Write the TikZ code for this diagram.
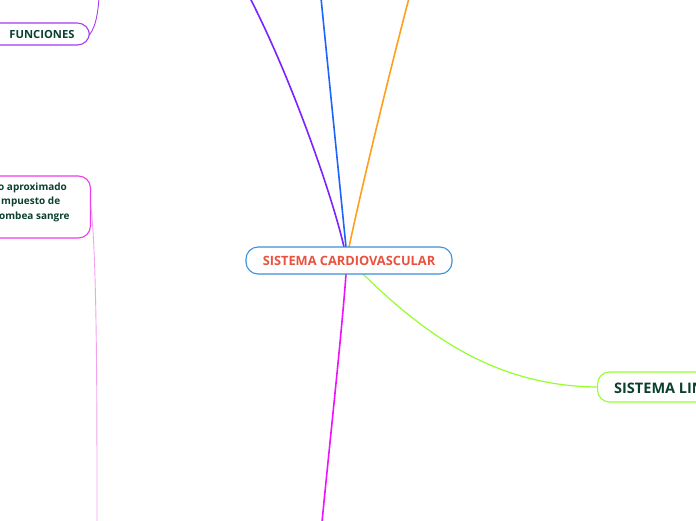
\documentclass[tikz,border=0pt]{standalone}
\usepackage{fontspec}
\setmainfont{Open Sans}
\definecolor{txtgreen}{HTML}{0B3F2F}
\definecolor{cred}{HTML}{E8523F}
\definecolor{cblue}{HTML}{3C8FD8}
\definecolor{lpurple}{HTML}{7B22FF}
\definecolor{lblue}{HTML}{1F63FF}
\definecolor{lorange}{HTML}{FF9F1C}
\definecolor{lgreen}{HTML}{95FF2A}
\definecolor{lmag}{HTML}{EE10FF}
\definecolor{fpurple}{HTML}{A93BF2}
\definecolor{npink}{HTML}{EE3BEE}
\definecolor{thinpink}{HTML}{F3A2F0}
\tikzset{
  box/.style={draw, rounded corners=12pt, line width=1.1pt, fill=white, inner sep=0pt},
  branch/.style={line width=1.6pt, line cap=round},
  twig/.style={line width=0.9pt},
  lbl/.style={font=\bfseries, text=txtgreen, inner sep=0pt}
}
\begin{document}
\begin{tikzpicture}[x=1pt,y=-1pt]
\useasboundingbox (0,0) rectangle (696,520);
% connectors
\coordinate (ctop) at (346,247);
\coordinate (cbot) at (346,274);
\coordinate (pend) at (250,-2);
\coordinate (bend) at (321,-2);
\coordinate (oend) at (409,-2);
\coordinate (mend) at (322,522);
\coordinate (fend) at (99,-2);
\coordinate (tend) at (97,522);
\draw[branch, lpurple] (344,247) .. controls (332,195) and (292,80) .. (pend);
\draw[branch, lblue] (346,247) -- (bend);
\draw[branch, lorange] (349,247) .. controls (360,195) and (385,90) .. (oend);
\draw[branch, lmag] (cbot) .. controls (342,330) and (330,440) .. (mend);
% side nodes
\node[box, draw=fpurple, minimum width=110pt, minimum height=22pt, anchor=east] (func) at (90,34) {};
\node[lbl, font=\fontsize{11.2}{13}\selectfont\bfseries] (functxt) at (42,34) {FUNCIONES};
\draw[twig, fpurple] (func.east) .. controls (96,26) and (98,12) .. (fend);
\node[box, draw=npink, minimum width=120pt, minimum height=62pt, anchor=east] (org) at (91,207) {};
\draw[twig, thinpink] (org.east) .. controls (97,260) and (97,400) .. (tend);
\node[lbl, anchor=base west, font=\fontsize{10}{12}\selectfont\bfseries] (o1) at (-2,190) {o aproximado};
\node[lbl, anchor=base west, font=\fontsize{10}{12}\selectfont\bfseries] (o2) at (1,204) {mpuesto de};
\node[lbl, anchor=base west, font=\fontsize{10}{12}\selectfont\bfseries] (o3) at (-1,219) {ombea sangre};
\node[box, draw=lgreen, minimum width=140pt, minimum height=30pt, anchor=west] (lin) at (597,387) {};
\node[lbl, anchor=west, font=\fontsize{14.5}{16}\selectfont\bfseries] (lintxt) at (614,387) {SISTEMA LINFÁTICO};
\draw[branch, lgreen, line width=1.2pt] (362,273) .. controls (430,340) and (500,386) .. (lin.west);
% central node
\node[box, draw=cblue, minimum width=206pt, minimum height=27pt, text=cred, font=\fontsize{12.8}{14}\selectfont\bfseries] (center) at (349,260.5) {SISTEMA CARDIOVASCULAR};
\end{tikzpicture}
\end{document}
